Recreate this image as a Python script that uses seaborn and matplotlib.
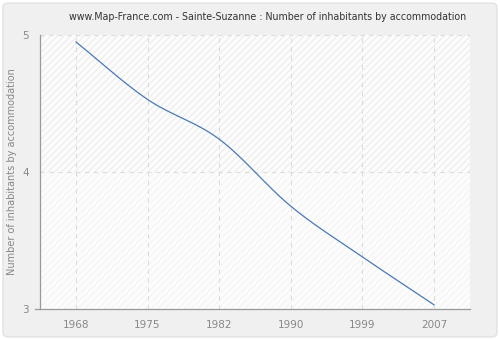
import numpy as np
import pandas as pd
import seaborn as sns
import matplotlib
matplotlib.use("Agg")
import matplotlib.pyplot as plt
from matplotlib.patches import FancyBboxPatch

years = [1968, 1975, 1982, 1990, 1999, 2007]
inhabitants = [4.95, 4.53, 4.24, 3.75, 3.38, 3.03]
y_ticks = [3, 4, 5]
title = "www.Map-France.com - Sainte-Suzanne : Number of inhabitants by accommodation"
y_label = "Number of inhabitants by accommodation"


def smooth_curve(x, y, n=40):
    """Cubic Hermite curve through the points (Catmull-Rom style tangents)."""
    x = np.asarray(x, float)
    y = np.asarray(y, float)
    m = np.zeros_like(y)
    m[0] = (y[1] - y[0]) / (x[1] - x[0])
    m[-1] = (y[-1] - y[-2]) / (x[-1] - x[-2])
    for i in range(1, len(x) - 1):
        m[i] = (y[i + 1] - y[i - 1]) / (x[i + 1] - x[i - 1])
    xs, ys = [], []
    for i in range(len(x) - 1):
        h = x[i + 1] - x[i]
        t = np.linspace(0, 1, n, endpoint=(i == len(x) - 2))
        h00 = 2 * t**3 - 3 * t**2 + 1
        h10 = t**3 - 2 * t**2 + t
        h01 = -2 * t**3 + 3 * t**2
        h11 = t**3 - t**2
        xs.append(x[i] + t * h)
        ys.append(h00 * y[i] + h10 * h * m[i] + h01 * y[i + 1] + h11 * h * m[i + 1])
    return np.concatenate(xs), np.concatenate(ys)


sns.set_style("white")
plt.rcParams["font.family"] = ["DejaVu Sans"]
plt.rcParams["hatch.linewidth"] = 0.6

fig = plt.figure(figsize=(5, 3.4), dpi=100)
fig.patch.set_facecolor("white")
fig.patches.append(FancyBboxPatch((0.006, 0.009), 0.988, 0.982,
                                  boxstyle="round,pad=0,rounding_size=0.012",
                                  transform=fig.transFigure, facecolor="#f0f0f0",
                                  edgecolor="#e2e2e2", linewidth=1, zorder=-10))

ax = fig.add_axes([40 / 500, 1 - 309 / 340, 430 / 500, 274 / 340])
ax.set_facecolor("#fcfcfc")

# hatched background bands
ax.axhspan(4, 5, facecolor="none", hatch="/////", edgecolor="#e6e6e6", linewidth=0, zorder=0)
ax.axhspan(3, 4, facecolor="none", hatch="/////", edgecolor="#f2f2f2", linewidth=0, zorder=0)

# census years are placed at evenly spaced positions
pos = np.arange(len(years))
sx, sy = smooth_curve(pos, inhabitants)
df = pd.DataFrame({"position": sx, "value": sy})
sns.lineplot(data=df, x="position", y="value", ax=ax, color="#4a7ab5", linewidth=0.9,
             estimator=None, sort=False, zorder=3)

ax.set_xlim(-0.5, 5.5)
ax.set_ylim(3, 5)
ax.set_xticks(pos)
ax.set_xticklabels([str(y) for y in years])
ax.set_yticks(y_ticks)
ax.set_yticklabels([str(t) for t in y_ticks])

for p in pos:
    ax.axvline(p, color="#dcdcdc", linestyle=(0, (4, 4)), linewidth=0.8, zorder=1)
for t in y_ticks[1:]:
    ax.axhline(t, color="#dcdcdc", linestyle=(0, (4, 4)), linewidth=0.8, zorder=1)

for side in ("top", "right"):
    ax.spines[side].set_visible(False)
for side in ("left", "bottom"):
    ax.spines[side].set_color("#999999")
    ax.spines[side].set_linewidth(0.9)
ax.spines["bottom"].set_bounds(-0.57, 5.5)

ax.tick_params(axis="both", colors="#999999", labelcolor="#888888", labelsize=7.5,
               length=5, width=0.9, direction="out", pad=3)
ax.set_xlabel("")
ax.set_ylabel(y_label, color="#888888", fontsize=7, labelpad=4)
ax.set_title(title, color="#333333", fontsize=6.85, pad=11, x=0.53)

fig.savefig("out.png", dpi=100, facecolor=fig.get_facecolor())
